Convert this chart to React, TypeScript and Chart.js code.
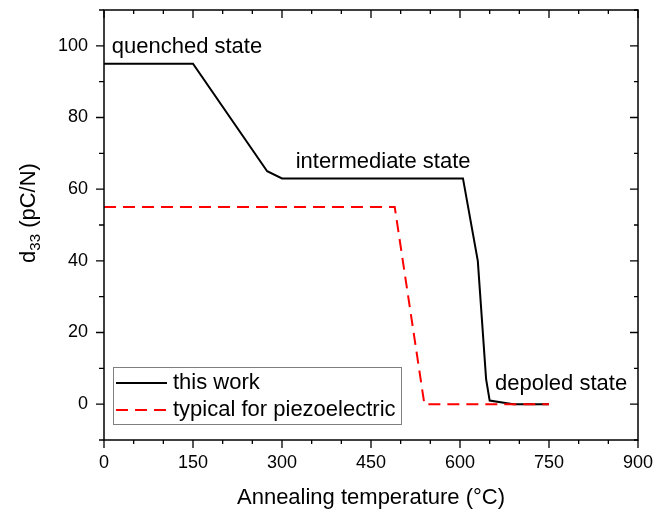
import React, { useEffect, useRef } from "react";
import { Chart, registerables } from "chart.js";

Chart.register(...registerables);

// ---- data ----
const thisWorkTemp = [0, 150, 275, 300, 605, 630, 644, 650, 690, 750];
const thisWorkD33 = [95, 95, 65, 63, 63, 40, 7, 1, 0, 0];

const typicalTemp = [0, 490, 540, 750];
const typicalD33 = [55, 55, 0, 0];

const xTickStep = 150;
const xMinorStep = 50;
const yTickValues = [0, 20, 40, 60, 80, 100];
const yTickStep = 20;
const yMinorStep = 10;

const seriesLabels = ["this work", "typical for piezoelectric"];
const annotationTexts = ["quenched state", "intermediate state", "depoled state"];
// annotation anchor (data coords, left/baseline)
const annotationX = [13, 323, 659];
const annotationY = [98, 66, 4];

const FONT = "'Liberation Sans', Arial, sans-serif";

const framePlugin = {
  id: "framePlugin",
  afterDraw(chart: any) {
    const ctx = chart.ctx as CanvasRenderingContext2D;
    const { left, right, top, bottom } = chart.chartArea;
    const xs = chart.scales.x;
    const ys = chart.scales.y;
    ctx.save();
    ctx.strokeStyle = "#000";
    ctx.lineWidth = 1.5;
    ctx.strokeRect(left, top, right - left, bottom - top);
    ctx.lineWidth = 1.3;
    // x ticks
    for (let v = xs.min; v <= xs.max + 1e-6; v += xMinorStep) {
      const px = xs.getPixelForValue(v);
      const major = Math.abs(v % xTickStep) < 1e-6;
      ctx.beginPath();
      ctx.moveTo(px, bottom);
      ctx.lineTo(px, bottom + (major ? 8 : 4));
      ctx.moveTo(px, top);
      ctx.lineTo(px, top + (major ? 8 : 4));
      ctx.stroke();
    }
    // y ticks
    for (let v = ys.min; v <= ys.max + 1e-6; v += yMinorStep) {
      const py = ys.getPixelForValue(v);
      const major = Math.abs(v % yTickStep) < 1e-6;
      ctx.beginPath();
      ctx.moveTo(left, py);
      ctx.lineTo(left - (major ? 8 : 5), py);
      ctx.moveTo(right, py);
      ctx.lineTo(right - (major ? 8 : 4), py);
      ctx.stroke();
    }

    // annotations
    ctx.fillStyle = "#000";
    ctx.font = `22px ${FONT}`;
    ctx.textAlign = "left";
    ctx.textBaseline = "alphabetic";
    annotationTexts.forEach((t, i) => {
      ctx.fillText(t, xs.getPixelForValue(annotationX[i]), ys.getPixelForValue(annotationY[i]));
    });

    // legend
    const lx = 113.5, ly = 367.5, lw = 288, lh = 57;
    ctx.fillStyle = "#fff";
    ctx.fillRect(lx, ly, lw, lh);
    ctx.strokeStyle = "#7f7f7f";
    ctx.lineWidth = 1;
    ctx.strokeRect(lx, ly, lw, lh);
    const rows = [383, 410];
    const colors = ["#000", "#ff0000"];
    const dashes = [[], [12, 7]];
    rows.forEach((ry, i) => {
      ctx.strokeStyle = colors[i];
      ctx.lineWidth = 2;
      ctx.setLineDash(dashes[i]);
      ctx.beginPath();
      ctx.moveTo(116, ry);
      ctx.lineTo(167, ry);
      ctx.stroke();
      ctx.setLineDash([]);
      ctx.fillStyle = "#000";
      ctx.textBaseline = "middle";
      ctx.fillText(seriesLabels[i], 173, ry);
    });

    // y title with subscript
    const cx = 27;
    const cy = (top + bottom) / 2 - 12;
    ctx.translate(cx, cy);
    ctx.rotate(-Math.PI / 2);
    const big = `22px ${FONT}`;
    const small = `15px ${FONT}`;
    ctx.font = big;
    const w1 = ctx.measureText("d").width;
    const w3 = ctx.measureText(" (pC/N)").width;
    ctx.font = small;
    const w2 = ctx.measureText("33").width;
    const total = w1 + w2 + w3;
    let x0 = -total / 2;
    ctx.textBaseline = "alphabetic";
    ctx.fillStyle = "#000";
    ctx.font = big;
    ctx.fillText("d", x0, 8);
    x0 += w1;
    ctx.font = small;
    ctx.fillText("33", x0, 13);
    x0 += w2;
    ctx.font = big;
    ctx.fillText(" (pC/N)", x0, 8);
    ctx.restore();
  },
};

export default function App() {
  const ref = useRef<HTMLCanvasElement | null>(null);
  useEffect(() => {
    if (!ref.current) return;
    const chart = new Chart(ref.current, {
      type: "line",
      data: {
        datasets: [
          {
            label: seriesLabels[0],
            data: thisWorkTemp.map((t, i) => ({ x: t, y: thisWorkD33[i] })),
            borderColor: "#000",
            borderWidth: 2,
            pointRadius: 0,
            tension: 0,
            fill: false,
            order: 2,
          },
          {
            label: seriesLabels[1],
            data: typicalTemp.map((t, i) => ({ x: t, y: typicalD33[i] })),
            borderColor: "#ff0000",
            borderWidth: 2,
            borderDash: [12, 7],
            pointRadius: 0,
            tension: 0,
            fill: false,
            order: 1,
          },
        ],
      },
      options: {
        animation: false,
        responsive: false,
        maintainAspectRatio: false,
        layout: { padding: { left: 0, top: 10, right: 27, bottom: 0 } },
        plugins: { legend: { display: false }, tooltip: { enabled: false } },
        scales: {
          x: {
            type: "linear",
            min: 0,
            max: 900,
            ticks: {
              stepSize: xTickStep,
              color: "#000",
              font: { size: 18, family: FONT },
              padding: 12,
              maxRotation: 0,
            },
            grid: { display: false, drawTicks: false },
            border: { display: false },
            title: {
              display: true,
              text: "Annealing temperature (°C)",
              color: "#000",
              font: { size: 22, family: FONT },
              padding: { top: 0, bottom: 2 },
            },
            afterFit: (s: any) => {
              s.height = 73;
              s.paddingLeft = 0;
              s.paddingRight = 0;
            },
          },
          y: {
            type: "linear",
            min: -10,
            max: 110,
            ticks: {
              color: "#000",
              font: { size: 18, family: FONT },
              padding: 16,
            },
            afterBuildTicks: (s: any) => {
              s.ticks = yTickValues.map((v) => ({ value: v }));
            },
            grid: { display: false, drawTicks: false },
            border: { display: false },
            afterFit: (s: any) => {
              s.width = 104;
              s.paddingTop = 0;
              s.paddingBottom = 0;
            },
          },
        },
      },
      plugins: [framePlugin],
    });
    return () => chart.destroy();
  }, []);
  return (
    <div style={{ position: "fixed", left: 0, top: 0, width: 665, height: 513, background: "#fff" }}>
      <canvas ref={ref} width={665} height={513} style={{ width: 665, height: 513 }} />
    </div>
  );
}
